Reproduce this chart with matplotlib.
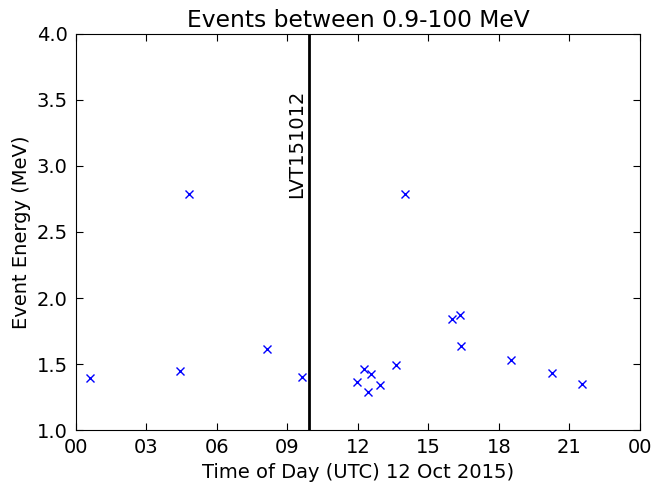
import matplotlib
matplotlib.use("Agg")
import matplotlib.pyplot as plt

# event times (hours UTC) and energies (MeV)
hours = [0.61, 4.42, 4.83, 8.14, 9.63,
         11.98, 12.26, 12.43, 12.56, 12.94, 13.61, 14.0,
         16.02, 16.33, 16.37, 18.50, 20.27, 21.54]
energy = [1.398, 1.449, 2.79, 1.616, 1.405,
          1.367, 1.464, 1.289, 1.424, 1.34, 1.492, 2.787,
          1.842, 1.872, 1.636, 1.530, 1.431, 1.348]

lvt_hour = 9.91
lvt_label = "LVT151012"
xtick_pos = [0, 3, 6, 9, 12, 15, 18, 21, 24]
xtick_lbl = ["00", "03", "06", "09", "12", "15", "18", "21", "00"]

plt.rcParams['font.size'] = 14
fig = plt.figure(figsize=(6.55, 4.91), dpi=100)
ax = fig.add_axes([0.116, 0.124, 0.861, 0.807])

ax.plot(hours, energy, 'x', color='blue', markersize=6, markeredgewidth=1.0)
ax.axvline(lvt_hour, color='black', linewidth=2)
ax.text(8.98, 2.76, lvt_label, rotation=90, ha='left', va='bottom')

ax.set_xlim(0, 24)
ax.set_ylim(1.0, 4.0)
ax.set_xticks(xtick_pos)
ax.set_xticklabels(xtick_lbl)
ax.set_yticks([1.0, 1.5, 2.0, 2.5, 3.0, 3.5, 4.0])
ax.tick_params(direction='in', top=True, right=True, length=5, pad=6)

ax.set_xlabel("Time of Day (UTC) 12 Oct 2015)")
ax.set_ylabel("Event Energy (MeV)")
ax.set_title("Events between 0.9-100 MeV", pad=5)

fig.savefig("out.png", dpi=100)
